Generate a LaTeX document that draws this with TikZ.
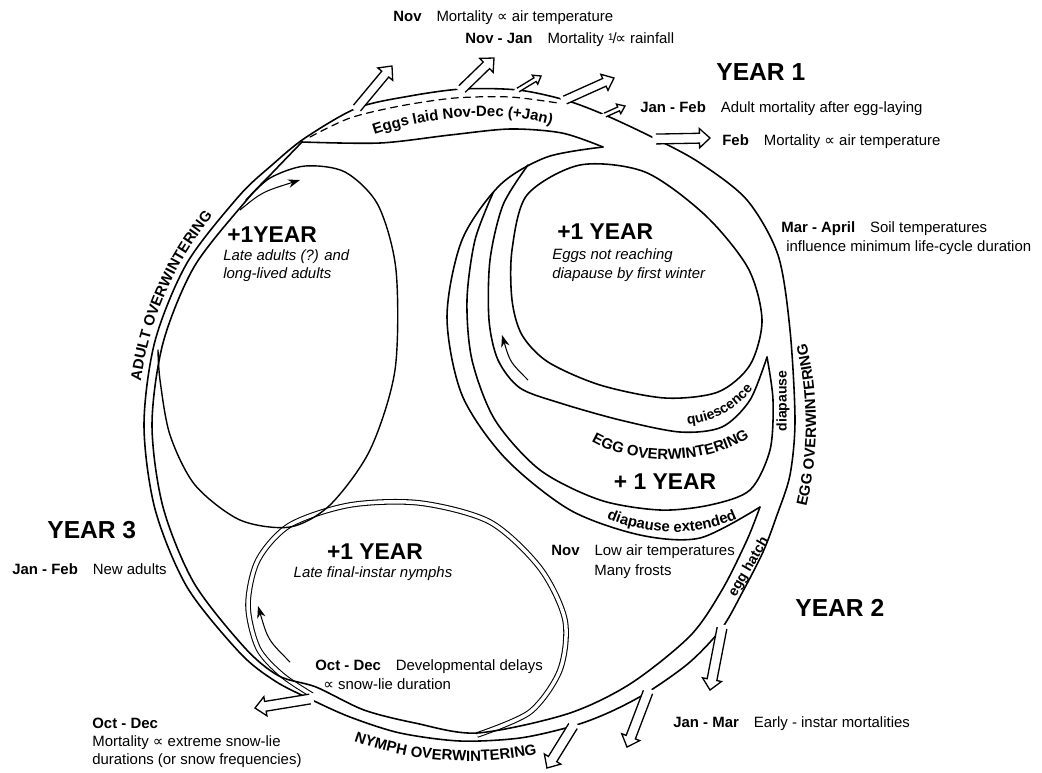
\documentclass[tikz,border=0pt]{standalone}
\usepackage{fontspec}
\setmainfont{Liberation Sans}
\newfontfamily\symfont{DejaVu Sans}
\usetikzlibrary{arrows.meta,calc,decorations.text}

\newcommand{\propsym}{{\symfont\char"221D}}
\newcommand{\invprop}{\raisebox{0.45ex}{\fontsize{5.5}{6}\selectfont 1}\kern-0.5pt/\kern-0.8pt\propsym}
\newcommand{\bandfont}{\bfseries\fontsize{8.5}{10}\selectfont}
\newcommand{\smallbandfont}{\bfseries\fontsize{8}{9}\selectfont}
\newcommand{\exitarrow}[5]{%
  \coordinate (ea_b) at ($(#1)!-2pt!(#2)$);
  \coordinate (ea_n) at ($(#2)!#5!(#1)$);
  \fill[white] ($(ea_b)!#3!90:(#2)$) -- ($(ea_n)!#3!90:(#2)$) -- ($(ea_n)!#4!90:(#2)$) -- (#2)
    -- ($(ea_n)!#4!-90:(#2)$) -- ($(ea_n)!#3!-90:(#2)$) -- ($(ea_b)!#3!-90:(#2)$) -- cycle;
  \draw[exitline] ($(#1)!#3!90:(#2)$) -- ($(ea_n)!#3!90:(#2)$) -- ($(ea_n)!#4!90:(#2)$) -- (#2)
    -- ($(ea_n)!#4!-90:(#2)$) -- ($(ea_n)!#3!-90:(#2)$) -- ($(#1)!#3!-90:(#2)$);
}

\begin{document}
\begin{tikzpicture}[x=0.02cm,y=-0.02cm]
\tikzset{
  bandline/.style={draw=black,line width=0.9pt,line cap=round,line join=round},
  exitline/.style={draw=black,line width=0.75pt,line join=miter},
  nymphloop/.style={draw=black,line width=0.6pt,double=white,double distance=2pt},
  flowarrow/.style={draw=black,line width=0.6pt,-{Stealth[length=2.4mm,width=1.7mm]}},
  plainlbl/.style={anchor=west,inner sep=0pt,font=\fontsize{8.5}{10}\selectfont},
  yearlbl/.style={anchor=west,inner sep=0pt,font=\bfseries\fontsize{14}{16}\selectfont},
  looptitle/.style={inner sep=0pt,font=\bfseries\fontsize{13}{15}\selectfont},
  loopnote/.style={inner sep=0pt,align=left,font=\itshape\fontsize{8.5}{10.3}\selectfont},
  bandlbl/.style={inner sep=0pt,font=\bfseries\fontsize{8}{9}\selectfont}
}
\useasboundingbox (0,0) rectangle (1042,772);
\coordinate (c_ctr) at (468,425);

\draw[nymphloop] plot[smooth] coordinates {(477,735) (530,712) (560,670) (565,620) (540,568) (490,522) (420,503) (350,505) (290,525) (258,560) (248,605) (258,648) (282,675) (312,695)};

\draw[bandline] plot[smooth cycle] coordinates {(310,699) (275,681) (240,653) (187,587) (155,509) (144,425) (155,341) (187,263) (239,196) (272,165) (305,138) (357,108) (410,96) (462,89) (518,90) (565,100) (605,115) (656,139) (700,163) (747,200) (778,255) (790,330) (795,420) (790,475) (777,515) (763,552) (742,593) (722,628) (690,662) (648,692) (610,712) (573,726) (520,738) (460,741) (400,733) (350,717)};
\draw[bandline] plot[smooth] coordinates {(760,507) (747,540) (722,590) (690,636) (630,684) (567,714) (477,733) (415,723) (364,710) (316,687) (279,676) (245,648) (194,583) (163,507) (152,425) (163,343) (194,267) (245,202) (275,170) (302,142)};
\draw[bandline] plot[smooth] coordinates {(302,142) (380,143) (450,135) (510,129) (562,133) (603,147)};

\coordinate (b_nov) at (357,108);    \coordinate (t_nov) at (392,66);
\coordinate (b_novjan) at (462,89);  \coordinate (t_novjan) at (494,58);
\coordinate (b_small) at (518,90);   \coordinate (t_small) at (541,76);
\coordinate (b_mid) at (565,100);    \coordinate (t_mid) at (614,78);
\coordinate (b_janfeb) at (605,115); \coordinate (t_janfeb) at (625,106);
\coordinate (b_feb) at (656,139);    \coordinate (t_feb) at (710,138);
\coordinate (b_janmar1) at (722,628); \coordinate (t_janmar1) at (710,690);
\coordinate (b_janmar2) at (648,692); \coordinate (t_janmar2) at (627,747);
\coordinate (b_janmar3) at (573,726); \coordinate (t_janmar3) at (547,768);
\coordinate (b_octdec) at (310,699); \coordinate (t_octdec) at (255,708);

\exitarrow{b_nov}{t_nov}{2.6pt}{5.5pt}{6pt}
\exitarrow{b_novjan}{t_novjan}{2.6pt}{5.5pt}{6pt}
\exitarrow{b_small}{t_small}{1.2pt}{3pt}{4pt}
\exitarrow{b_mid}{t_mid}{2.4pt}{5pt}{6pt}
\exitarrow{b_janfeb}{t_janfeb}{1.2pt}{3pt}{4pt}
\exitarrow{b_feb}{t_feb}{2.8pt}{5.5pt}{6pt}
\exitarrow{b_janmar1}{t_janmar1}{2.8pt}{5.5pt}{6pt}
\exitarrow{b_janmar2}{t_janmar2}{2.8pt}{5.5pt}{6pt}
\exitarrow{b_janmar3}{t_janmar3}{2.8pt}{5.5pt}{6pt}
\exitarrow{b_octdec}{t_octdec}{2.8pt}{5.5pt}{6pt}

\draw[bandline,line width=0.7pt,dash pattern=on 4pt off 3pt] plot[smooth] coordinates {(310,137) (350,118) (400,106) (455,98) (510,97) (558,103)};

\draw[bandline] plot[smooth] coordinates {(603,147) (547,157) (500,185) (462,240) (447,317) (462,395) (505,458) (570,510) (640,535) (700,538) (760,507)};
\draw[bandline] plot[smooth] coordinates {(493,193) (475,240) (467,300) (472,360) (495,420) (540,470) (600,500) (660,510) (710,505) (750,490) (770,450) (773,400) (767,357)};
\draw[bandline] plot[smooth] coordinates {(528,165) (503,205) (490,260) (489,320) (498,360) (520,388) (560,403) (620,420) (680,432) (722,427) (750,400) (767,357)};
\draw[bandline] plot[smooth cycle] coordinates {(527,195) (580,165) (645,172) (705,215) (748,268) (762,320) (750,365) (718,392) (665,398) (600,385) (548,362) (522,335) (512,300) (512,250)};

\draw[bandline,line width=0.8pt] plot[smooth] coordinates {(246,200) (270,178) (305,166) (345,172) (378,205) (396,270) (395,370) (370,450) (330,505) (290,527) (240,520) (195,485) (170,435) (160,380) (158,350)};

\coordinate (f_adult0) at (240,210);  \coordinate (f_adult1) at (300,180);
\coordinate (f_nymph0) at (290,662);  \coordinate (f_nymph1) at (258,606);
\coordinate (f_egg0) at (528,380);    \coordinate (f_egg1) at (502,335);
\draw[flowarrow] (f_adult0) .. controls (262,192) .. (f_adult1);
\draw[flowarrow] (f_nymph0) .. controls (268,640) .. (f_nymph1);
\draw[flowarrow] (f_egg0) .. controls (510,362) .. (f_egg1);

\path[decorate,decoration={text along path,text align=center,text={|\bandfont|ADULT OVERWINTERING}}] ($(c_ctr)+(185:330)$) arc[start angle=185,end angle=222,radius=330];
\path[decorate,decoration={text along path,text align=center,text={|\bandfont|EGG OVERWINTERING}}] ($(c_ctr)+(15:348)$) arc[start angle=15,end angle=-15,radius=348];
\path[decorate,decoration={text along path,text align=center,text={|\bandfont|NYMPH OVERWINTERING}}] ($(c_ctr)+(116:336)$) arc[start angle=116,end angle=72,radius=336];
\path[decorate,decoration={text along path,text align=center,text={|\bandfont|Eggs laid Nov-Dec (+Jan)}}] (368,137) .. controls (420,118) and (500,107) .. (558,127);
\path[decorate,decoration={text along path,text align=center,text={|\bandfont|EGG OVERWINTERING}}] (583,436) .. controls (625,466) and (705,470) .. (758,432);
\path[decorate,decoration={text along path,text align=center,text={|\bandfont|diapause extended}}] (598,514) .. controls (640,536) and (700,540) .. (746,514);
\path[decorate,decoration={text along path,text align=center,text={|\smallbandfont|quiescence}}] (672,425) .. controls (708,426) and (740,412) .. (762,376);

\node[bandlbl,rotate=90] (n_diap) at (783,401) {diapause};
\node[bandlbl,rotate=60] (n_hatch) at (749,567) {egg hatch};

\node[looptitle,anchor=west] (n_adultyr) at (227,235) {+1YEAR};
\node[loopnote,anchor=west] (n_adultnote) at (223,266) {Late adults (?) and\\long-lived adults};
\node[looptitle,anchor=west] (n_eggyr) at (557,232) {+1 YEAR};
\node[loopnote,anchor=west,font=\itshape\fontsize{8.5}{10.8}\selectfont] (n_eggnote) at (552,265) {Eggs not reaching\\diapause by first winter};
\node[looptitle] (n_extyr) at (665,482) {+ 1 YEAR};
\node[looptitle] (n_nymphyr) at (375,552) {+1 YEAR};
\node[loopnote] (n_nymphnote) at (373,574) {Late final-instar nymphs};

\node[plainlbl] (n_nov) at (393,18) {\textbf{Nov}\quad Mortality \propsym{} air temperature};
\node[plainlbl] (n_novjan) at (465,40) {\textbf{Nov - Jan}\quad Mortality \invprop{} rainfall};
\node[yearlbl] (n_year1) at (716,72) {YEAR 1};
\node[plainlbl] (n_janfeb) at (640,109) {\textbf{Jan - Feb}\quad Adult mortality after egg-laying};
\node[plainlbl] (n_feb) at (722,142) {\textbf{Feb}\quad Mortality \propsym{} air temperature};
\node[plainlbl] (n_marapr) at (781,229) {\textbf{Mar - April}\quad Soil temperatures};
\node[plainlbl] (n_marapr2) at (786,248) {influence minimum life-cycle duration};
\node[yearlbl] (n_year3) at (47,530) {YEAR 3};
\node[plainlbl] (n_newad) at (12,569) {\textbf{Jan - Feb}\quad New adults};
\node[yearlbl] (n_year2) at (795,608) {YEAR 2};
\node[plainlbl] (n_novlow) at (551,552) {\textbf{Nov}\quad Low air temperatures};
\node[plainlbl] (n_frosts) at (594,572) {Many frosts};
\node[plainlbl] (n_octdev) at (315,667) {\textbf{Oct - Dec}\quad Developmental delays};
\node[plainlbl] (n_snowlie) at (323,684) {\propsym\ snow-lie duration};
\node[plainlbl,align=left,font=\fontsize{8.5}{10.2}\selectfont] (n_octmort) at (92,743) {\textbf{Oct - Dec}\\Mortality \propsym{} extreme snow-lie\\durations (or snow frequencies)};
\node[plainlbl] (n_janmar) at (673,724) {\textbf{Jan - Mar}\quad Early - instar mortalities};
\end{tikzpicture}
\end{document}
